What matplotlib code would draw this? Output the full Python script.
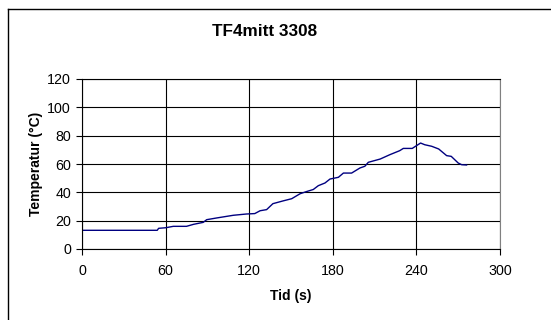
import matplotlib.pyplot as plt
from matplotlib.lines import Line2D

plt.rcParams['font.family'] = ['Liberation Sans', 'DejaVu Sans']

# Tid (s) och temperatur (°C)
tid = [0, 54, 55, 60, 65.5, 75, 80, 87, 89.5, 96.6, 108.6, 118, 124, 127.8, 132.5,
       137, 144.5, 150.5, 156.5, 161, 166, 169.6, 174.4, 178, 184, 187.6, 193.5,
       199.5, 203, 205.5, 214, 221, 228, 230.6, 237, 243, 246, 251, 256, 261.7,
       265, 270, 272.5, 276]
temp = [13.2, 13.2, 14.6, 15, 16, 16, 17.4, 18.8, 20.7, 21.9, 23.8, 24.7, 25, 27, 27.8,
        32, 34, 35.5, 39, 40.5, 42, 44.7, 46.6, 49.4, 50.6, 53.6, 53.6,
        57.2, 58.4, 61.2, 63.5, 66.6, 69.4, 71, 71, 74.8, 73.6, 72.5, 70.6, 65.9,
        65.4, 60.7, 59.5, 59.3]

xticks = [0, 60, 120, 180, 240, 300]
yticks = [0, 20, 40, 60, 80, 100, 120]

fig = plt.figure(figsize=(5.51, 3.2), dpi=100)
ax = fig.add_axes([82 / 551, 1 - 249 / 320, 418 / 551, 170 / 320])

ax.plot(tid, temp, color='#000080', lw=1.0)

ax.set_xlim(0, 300)
ax.set_ylim(0, 120)
ax.set_xticks(xticks)
ax.set_yticks(yticks)
ax.grid(True, color='black', lw=0.8)
ax.set_axisbelow(True)
ax.tick_params(direction='out', length=4, width=0.8, labelsize=10.3, pad=4)
ax.tick_params(axis='x', pad=7)
for s in ['left', 'bottom', 'top']:
    ax.spines[s].set_color('black')
    ax.spines[s].set_linewidth(0.8)
ax.spines['right'].set_color('#808080')

ax.set_xlabel('Tid (s)', fontsize=10, fontweight='bold', labelpad=8)
ax.set_ylabel('Temperatur (°C)', fontsize=10, fontweight='bold', labelpad=3)
fig.text(265 / 551, 1 - 32 / 320, 'TF4mitt 3308', ha='center', va='center',
         fontsize=12.3, fontweight='bold')

# ram runt diagrammet
fig.add_artist(Line2D([7.5 / 551, 7.5 / 551], [0, 1 - 8.5 / 320], color='black', lw=1))
fig.add_artist(Line2D([7.5 / 551, 1], [1 - 8.5 / 320, 1 - 8.5 / 320], color='black', lw=1))

fig.savefig('out.png', dpi=100)
